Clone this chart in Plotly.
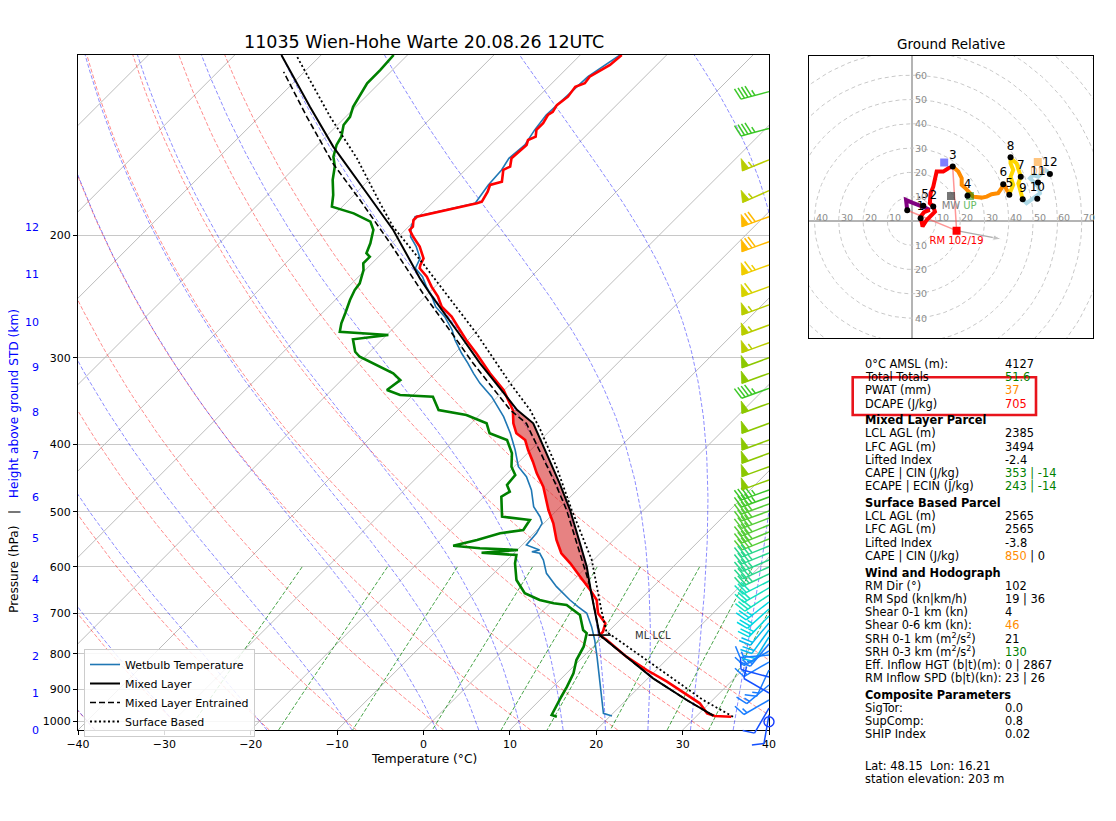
import numpy as np
import plotly.graph_objects as go

# ======================= DATA =======================
TITLE = "11035 Wien-Hohe Warte 20.08.26 12UTC"

temp_p = [110.0, 112.5, 113.7, 118.2, 120.8, 122.2, 126.3, 129.9, 132.8, 134.2, 137.9, 141.0, 144.2, 145.8,
          148.2, 154.9, 159.2, 161.0, 167.4, 169.2, 173.0, 178.9, 179.8, 188.0, 190.1, 194.3, 196.4, 200.9,
          207.6, 215.8, 220.6, 223.0, 229.3, 237.0, 245.0, 253.3, 261.8, 273.6, 282.9, 295.6, 315.9, 333.8,
          356.7, 372.8, 385.3, 394.0, 407.3, 423.3, 440.0, 459.9, 480.6, 496.9, 519.2, 548.8, 573.5, 592.9,
          619.8, 647.7, 669.5, 699.7, 723.3, 743.7, 751.8, 764.4, 807.8, 844.3, 877.7, 917.2, 942.8, 974.6,
          983.3, 985.6]
temp_c = [-55.2, -55.4, -55.4, -56.4, -56.2, -56.9, -56.6, -56.9, -56.6, -56.8, -56.4, -56.4, -55.7, -56.2,
          -55.8, -56.0, -55.2, -55.6, -54.4, -55.4, -54.9, -54.4, -54.8, -60.2, -60.2, -59.5, -59.5, -58.3,
          -56.4, -54.6, -54.2, -53.9, -52.1, -50.4, -48.5, -46.9, -44.6, -42.1, -40.2, -37.5, -33.6, -30.1,
          -26.7, -25.1, -23.6, -21.8, -20.3, -18.4, -16.6, -14.3, -12.4, -11.0, -8.9, -6.6, -4.5, -2.3,
          0.4, 3.1, 5.0, 6.7, 8.7, 9.4, 9.4, 10.8, 15.0, 18.9, 22.6, 26.4, 28.9, 30.9,
          32.1, 34.1]

dwpt_p = [110.0, 115.6, 120.8, 123.5, 130.6, 135.0, 138.7, 144.2, 148.2, 154.1, 159.2, 166.4, 174.9, 181.8,
          185.9, 191.1, 196.4, 205.3, 212.2, 214.7, 219.4, 224.3, 234.4, 239.7, 247.7, 258.9, 267.6, 275.2,
          278.2, 282.2, 294.1, 299.0, 305.6, 315.9, 323.0, 333.8, 339.4, 341.3, 356.7, 362.7, 372.8, 385.3,
          394.0, 411.7, 430.4, 442.4, 457.3, 467.6, 475.4, 508.0, 513.6, 530.9, 536.7, 548.8, 559.3, 564.1,
          567.3, 572.4, 576.8, 592.9, 626.6, 654.8, 669.5, 676.8, 680.7, 703.6, 739.4, 747.6, 781.6, 816.8,
          853.6, 892.3, 922.5, 953.5, 980.0, 985.6]
dwpt_c = [-81.6, -81.4, -81.4, -81.1, -80.3, -79.5, -79.3, -78.2, -77.8, -76.8, -75.5, -74.2, -72.4, -71.2,
          -67.9, -65.0, -63.7, -62.5, -61.8, -61.0, -61.0, -60.2, -59.1, -58.9, -58.3, -57.3, -56.6, -55.8,
          -49.8, -53.4, -51.7, -50.6, -48.3, -44.8, -43.2, -43.6, -41.5, -37.5, -35.3, -31.5, -28.2, -26.7,
          -23.9, -21.8, -20.3, -18.9, -18.7, -17.6, -18.0, -15.6, -12.0, -11.6, -13.9, -15.8, -17.9, -14.5,
          -9.9, -13.8, -9.5, -8.7, -6.6, -4.1, -1.6, 0.4, 2.1, 4.8, 6.9, 7.7, 8.9, 9.6,
          10.8, 11.6, 12.1, 12.7, 13.1, 13.9]

wetb_p = [110.0, 118.2, 126.3, 134.2, 141.0, 148.2, 154.9, 161.0, 169.2, 179.8, 188.0, 194.3, 200.9, 207.6,
          215.8, 223.0, 229.3, 237.0, 245.0, 253.3, 261.8, 273.6, 282.9, 295.6, 305.6, 315.9, 326.5, 341.3,
          364.7, 385.3, 407.3, 430.4, 445.0, 464.9, 491.4, 508.0, 519.2, 536.7, 558.0, 567.3, 570.4, 573.5,
          586.4, 612.9, 640.5, 669.5, 684.6, 699.7, 731.4, 764.4, 807.8, 835.0, 882.3, 922.5, 953.5, 974.6,
          983.3]
wetb_c = [-55.4, -56.6, -56.8, -57.0, -56.6, -56.0, -56.3, -55.8, -55.6, -55.0, -60.4, -59.7, -58.6, -56.8,
          -55.0, -54.4, -52.6, -51.0, -49.2, -47.6, -45.4, -43.0, -41.5, -39.2, -37.3, -35.5, -33.6, -30.7,
          -27.0, -24.3, -21.8, -19.5, -17.4, -15.3, -13.1, -11.2, -10.2, -9.7, -9.5, -7.4, -8.1, -7.0,
          -5.8, -3.9, -1.2, 1.9, 3.6, 5.4, 7.5, 9.4, 11.6, 12.9, 15.0, 16.8, 18.1, 18.9,
          20.2]

ml_p = [982.3, 932.6, 867.9, 807.8, 752.0, 654.8, 599.6, 554.8, 496.9, 454.8, 411.7, 372.8, 356.7, 305.6,
        278.2, 242.4, 230.6, 196.4, 173.9, 149.0, 130.6, 110.0]
ml_c = [31.9, 27.0, 20.6, 15.0, 9.4, 3.6, 0.0, -3.5, -8.5, -12.8, -17.8, -22.8, -26.2, -35.9,
        -41.5, -49.8, -52.7, -61.4, -68.7, -78.0, -85.3, -94.6]

mle_p = [982.3, 932.6, 867.9, 807.8, 752.0, 640.5, 554.8, 496.9, 454.8, 411.7, 372.8, 356.7, 305.6, 278.2,
         242.4, 205.3, 177.9, 157.5, 135.0, 116.3]
mle_c = [31.9, 27.0, 20.6, 15.0, 9.4, 2.7, -3.9, -8.9, -13.3, -18.5, -23.6, -27.0, -36.7, -42.3,
         -50.6, -60.2, -68.7, -76.1, -84.5, -92.4]

sb_p = [985.6, 932.6, 863.3, 798.9, 743.7, 692.1, 640.5, 586.4, 496.9, 430.4, 381.1, 356.7, 326.5, 276.7,
        219.4, 194.3, 179.8, 154.9, 135.0, 110.6]
sb_c = [34.3, 28.9, 22.4, 15.8, 9.8, 6.7, 3.5, -0.2, -8.3, -15.1, -21.2, -24.7, -30.1, -39.8,
        -54.1, -61.8, -66.0, -73.9, -81.8, -92.6]

ml_lcl_p, ml_lcl_c = 752.0, 9.4
ml_lfc_p, ml_el_p = 654.8, 356.7

barb_p = [124.2, 140.3, 155.7, 172.4, 188.0, 204.2, 220.6, 237.0, 251.8, 269.2, 285.4, 300.0, 315.9, 332.0,
          348.9, 372.8, 394.0, 411.7, 430.4, 449.8, 464.9, 476.0, 487.1, 498.5, 510.2, 522.2, 534.5, 546.9,
          559.8, 573.0, 586.4, 600.2, 614.2, 628.6, 643.3, 658.5, 673.9, 689.8, 706.0, 722.5, 739.4, 756.8,
          774.6, 792.8, 803.4, 822.3, 844.3, 864.1, 887.3, 911.1, 932.6, 957.6, 980.0, 1002.1]
barb_kt = [45, 45, 55, 55, 70, 70, 65, 60, 55, 55, 55, 50, 50, 45,
           50, 50, 50, 50, 50, 50, 45, 45, 40, 40, 40, 40, 40, 40,
           35, 35, 35, 35, 35, 30, 30, 30, 25, 25, 25, 20, 20, 20,
           15, 15, 15, 15, 15, 10, 15, 10, 15, 10, 10, 0]
barb_dir = [255, 255, 248, 246, 250, 250, 250, 250, 250, 250, 250, 250, 250, 250,
            250, 250, 250, 250, 250, 250, 250, 250, 250, 250, 249, 248, 248, 248,
            248, 248, 247, 246, 245, 243, 240, 236, 232, 228, 224, 220, 216, 212,
            220, 240, 265, 240, 205, 285, 230, 300, 240, 210, 190, 0]

x_ticks = [-40, -30, -20, -10, 0, 10, 20, 30, 40]
p_ticks = [1000, 900, 800, 700, 600, 500, 400, 300, 200]
height_km = [0, 1, 2, 3, 4, 5, 6, 7, 8, 9, 10, 11, 12]
height_km_p = [1030.0, 912.1, 806.0, 711.3, 625.1, 546.9, 477.0, 415.4, 359.9, 309.6, 266.5, 228.0, 194.6]

# hodograph (kn)
hodo_0_1_u = [-1.8, -2.3, 0.5, 2.1, 3.4, 5.5, 7.5]
hodo_0_1_v = [4.4, 8.6, 7.4, 7.0, 6.3, 5.5, 4.5]
hodo_1_3_u = [7.5, 5.1, 3.7, 4.5, 6.2, 8.2, 9.6, 8.9, 7.5, 7.8, 8.9, 10.3, 13.0, 15.1, 16.9]
hodo_1_3_v = [4.5, 3.6, 1.8, -2.3, 0.4, 2.5, 3.8, 5.9, 7.3, 11.4, 14.1, 20.3, 20.3, 21.7, 22.4]
hodo_3_6_u = [16.9, 19.2, 20.6, 20.6, 22.6, 24.0, 25.3, 28.8, 30.9, 32.9, 35.6, 37.0, 38.0, 39.1, 40.2]
hodo_3_6_v = [22.4, 20.3, 17.6, 14.8, 13.0, 11.4, 10.0, 9.6, 10.0, 11.0, 11.4, 13.5, 15.2, 12.8, 11.1]
hodo_6_9_u = [40.2, 41.8, 40.7, 41.8, 40.7, 40.7, 43.2, 44.9, 43.9, 45.7]
hodo_6_9_v = [11.1, 14.8, 18.2, 21.0, 23.7, 25.8, 23.7, 18.2, 15.5, 8.9]
hodo_9_12_u = [45.7, 47.3, 50.0, 52.8, 52.1, 48.7, 50.0, 52.1, 54.9, 56.9]
hodo_9_12_v = [8.9, 7.3, 9.3, 11.4, 14.1, 17.6, 18.9, 18.2, 21.0, 19.3]

sfc_uv = (-1.8, 4.4)
km_labels = ['.5', '1', '2', '3', '4', '5', '6', '7', '8', '9', '10', '11', '12']
km_u = [4.8, 3.7, 8.9, 16.9, 23.0, 40.2, 37.7, 44.9, 40.7, 45.7, 51.7, 52.0, 56.9]
km_v = [6.2, 1.1, 5.9, 22.4, 10.4, 10.8, 15.1, 18.2, 26.2, 8.9, 9.1, 15.8, 19.3]

rm_uv = (18.5, -4.0)
lm_uv = (13.4, 24.0)
mw_uv = (16.2, 10.3)
up_uv = (24.0, 10.3)
dn_uv = (51.9, 24.3)
rm_arrow_uv = (37.0, -7.5)
rm_label = "RM 102/19"
hodo_ring_kn = [10, 20, 30, 40, 50, 60, 70, 80, 90, 100]

C_GREEN, C_ORANGE, C_RED = '#008000', '#ff8c00', '#ff0000'


def col(s, c):
    return f'<span style="color:{c}">{s}</span>'


table_rows = [
    ('0°C AMSL (m):', '4127'),
    ('Total Totals', col('51.6', C_GREEN)),
    ('PWAT (mm)', col('37', C_ORANGE)),
    ('DCAPE (J/kg)', col('705', C_RED)),
    ('<b>Mixed Layer Parcel</b>', None),
    ('LCL AGL (m)', '2385'),
    ('LFC AGL (m)', '3494'),
    ('Lifted Index', '-2.4'),
    ('CAPE | CIN (J/kg)', col('353 | -14', C_GREEN)),
    ('ECAPE | ECIN (J/kg)', col('243 | -14', C_GREEN)),
    ('<b>Surface Based Parcel</b>', None),
    ('LCL AGL (m)', '2565'),
    ('LFC AGL (m)', '2565'),
    ('Lifted Index', '-3.8'),
    ('CAPE | CIN (J/kg)', col('850', C_ORANGE) + ' | 0'),
    ('<b>Wind and Hodograph</b>', None),
    ('RM Dir (°)', '102'),
    ('RM Spd (kn|km/h)', '19 | 36'),
    ('Shear 0-1 km (kn)', '4'),
    ('Shear 0-6 km (kn):', col('46', C_ORANGE)),
    ('SRH 0-1 km (m<sup>2</sup>/s<sup>2</sup>)', '21'),
    ('SRH 0-3 km (m<sup>2</sup>/s<sup>2</sup>)', col('130', C_GREEN)),
    ('Eff. Inflow HGT (b|t)(m):', '0 | 2867'),
    ('RM Inflow SPD (b|t)(kn):', '23 | 26'),
    ('<b>Composite Parameters</b>', None),
    ('SigTor:', '0.0'),
    ('SupComp:', '0.8'),
    ('SHIP Index', '0.02'),
]
footer_rows = ['Lat: 48.15  Lon: 16.21', 'station elevation: 203 m']

# ======================= LAYOUT GEOMETRY =======================
# the page body has an 8 px margin, so the figure is 8 px smaller and every
# screen position is shifted by that offset
PAGE_OFF = 8.0
FIG_W, FIG_H = 1116 - 8, 821 - 8
AX_L, AX_R, AX_T, AX_B = 78.0, 769.0, 55.0, 730.0
P_BOT, P_TOP = 1030.0, 110.0
T_MIN, T_MAX = -40.0, 40.0
PXC = (AX_R - AX_L) / (T_MAX - T_MIN)          # px per degC
LOGSPAN = np.log10(P_BOT / P_TOP)
DLOG = LOGSPAN / (AX_B - AX_T)                  # log10(p) per px
SKEW = (T_MAX - T_MIN) * (AX_B - AX_T) / (AX_R - AX_L)   # 45 deg in pixels
FONT = 'DejaVu Sans'


def fx(px):
    return (px - PAGE_OFF) / FIG_W


def fy(py):
    return 1.0 - (py - PAGE_OFF) / FIG_H


def skew_x(t, p):
    t = np.asarray(t, dtype=float)
    p = np.asarray(p, dtype=float)
    return t + SKEW * np.log10(P_BOT / p) / LOGSPAN


fig = go.Figure()


def add_multiline(xs_list, ps_list, color, width, dash=None, xa='x', ya='y'):
    xs, ys = [], []
    for x, p in zip(xs_list, ps_list):
        xs += list(x) + [None]
        ys += list(p) + [None]
    fig.add_trace(go.Scatter(x=xs, y=ys, mode='lines', xaxis=xa, yaxis=ya,
                             line=dict(color=color, width=width, dash=dash),
                             hoverinfo='skip', showlegend=False))


# ---- isotherms (skewed grid) ----
iso_x, iso_p = [], []
for t in np.arange(-130, 41, 10):
    pp = np.array([P_BOT, P_TOP])
    iso_x.append(skew_x([t, t], pp))
    iso_p.append(pp)
add_multiline(iso_x, iso_p, '#b4b4b4', 0.9)

# ---- dry adiabats ----
pgrid = np.geomspace(P_BOT, P_TOP, 80)
dx_, dp_ = [], []
for t0 in np.arange(-40, 51, 10):
    tt = (t0 + 273.15) * (pgrid / 1000.0) ** 0.28571 - 273.15
    dx_.append(skew_x(tt, pgrid))
    dp_.append(pgrid)
add_multiline(dx_, dp_, 'rgba(255,0,0,0.5)', 0.9, dash='4px,2px')

# ---- moist adiabats ----
RD, CP, LV, EPS = 287.04749, 1004.6662, 2.50084e6, 0.621957


def moist_rate(tk, p):
    tc = tk - 273.15
    es = 6.112 * np.exp(17.67 * tc / (tc + 243.5))
    rs = EPS * es / (p - es)
    return (RD * tk + LV * rs) / (CP + LV * LV * rs * EPS / (RD * tk * tk))


def integrate_moist(t0k, plist):
    out = [t0k]
    for i in range(len(plist) - 1):
        p1, p2 = plist[i], plist[i + 1]
        h = np.log(p2) - np.log(p1)
        pm = np.exp(np.log(p1) + h / 2)
        tk = out[-1]
        k1 = moist_rate(tk, p1)
        k2 = moist_rate(tk + h / 2 * k1, pm)
        k3 = moist_rate(tk + h / 2 * k2, pm)
        k4 = moist_rate(tk + h * k3, p2)
        out.append(tk + h / 6 * (k1 + 2 * k2 + 2 * k3 + k4))
    return np.array(out)


p_up = np.geomspace(1000.0, P_TOP, 140)
p_dn = np.geomspace(1000.0, P_BOT, 6)
mx_, mp_ = [], []
for t0 in [-40, -30, -20, -10, 0, 5, 10, 15, 20, 25, 30, 35, 40]:
    tu = integrate_moist(t0 + 273.15, p_up)
    td = integrate_moist(t0 + 273.15, p_dn)
    pp = np.concatenate([p_dn[::-1], p_up[1:]])
    tt = np.concatenate([td[::-1], tu[1:]]) - 273.15
    mx_.append(skew_x(tt, pp))
    mp_.append(pp)
add_multiline(mx_, mp_, 'rgba(0,0,255,0.5)', 0.9, dash='4px,2px')

# ---- mixing ratio lines ----
pm_ = np.linspace(600.0, P_BOT, 20)
wx_, wp_ = [], []
for w in [0.0004, 0.001, 0.002, 0.004, 0.007, 0.01, 0.016, 0.024, 0.032]:
    e = w * pm_ / (EPS + w)
    a = np.log(e / 6.112)
    tdw = 243.5 * a / (17.67 - a)
    wx_.append(skew_x(tdw, pm_))
    wp_.append(pm_)
add_multiline(wx_, wp_, 'rgba(0,128,0,0.8)', 0.9, dash='4px,2px')

# ---- CAPE shading (ML parcel vs temperature) ----
mlp = np.array(ml_p); mlc = np.array(ml_c)
tp = np.array(temp_p); tc_ = np.array(temp_c)
m1 = (mlp <= ml_lfc_p) & (mlp >= ml_el_p)
m2 = (tp <= ml_lfc_p) & (tp >= ml_el_p)
poly_p = np.concatenate([mlp[m1], tp[m2]])
poly_t = np.concatenate([mlc[m1], tc_[m2]])
fig.add_trace(go.Scatter(x=skew_x(poly_t, poly_p), y=poly_p, mode='lines', fill='toself',
                         fillcolor='rgba(214,39,40,0.58)', line=dict(width=0, color='rgba(0,0,0,0)'),
                         hoverinfo='skip', showlegend=False))

# ---- profiles ----
fig.add_trace(go.Scatter(x=skew_x(wetb_c, wetb_p), y=wetb_p, mode='lines', name='Wetbulb Temperature',
                         line=dict(color='#1f77b4', width=1.6), showlegend=True))
fig.add_trace(go.Scatter(x=skew_x(temp_c, temp_p), y=temp_p, mode='lines', name='Temperature',
                         line=dict(color='red', width=2.6), showlegend=False))
fig.add_trace(go.Scatter(x=skew_x(dwpt_c, dwpt_p), y=dwpt_p, mode='lines', name='Dewpoint',
                         line=dict(color='green', width=2.6), showlegend=False))
fig.add_trace(go.Scatter(x=skew_x(ml_c, ml_p), y=ml_p, mode='lines', name='Mixed Layer',
                         line=dict(color='black', width=2.0), showlegend=True))
fig.add_trace(go.Scatter(x=skew_x(mle_c, mle_p), y=mle_p, mode='lines', name='Mixed Layer Entrained',
                         line=dict(color='black', width=1.6, dash='6px,3px'), showlegend=True))
fig.add_trace(go.Scatter(x=skew_x(sb_c, sb_p), y=sb_p, mode='lines', name='Surface Based',
                         line=dict(color='black', width=1.8, dash='2px,2.5px'), showlegend=True))
fig.add_trace(go.Scatter(x=skew_x([ml_lcl_c], [ml_lcl_p]), y=[ml_lcl_p], mode='markers',
                         marker=dict(symbol='line-ew', size=16, line=dict(color='black', width=1.6)),
                         hoverinfo='skip', showlegend=False))

# ---- wind barbs (overlay axes so they are not clipped at the frame) ----
BX0, BX1, BY0, BY1 = 690.0, 800.0, 40.0, 775.0
BL = 29.0
spd_stops = [(0, (20, 60, 255)), (10, (20, 80, 255)), (15, (25, 125, 255)), (20, (0, 185, 240)),
             (25, (0, 215, 225)), (30, (20, 225, 190)), (35, (40, 215, 140)), (40, (85, 205, 55)),
             (45, (60, 200, 40)), (50, (140, 200, 0)), (55, (185, 205, 0)), (60, (215, 210, 0)),
             (65, (240, 205, 0)), (70, (255, 185, 0))]


def spd_color(s):
    best = min(spd_stops, key=lambda kv: abs(kv[0] - s))[1]
    return 'rgb(%d,%d,%d)' % best


groups = {}
calm_x, calm_p = [], []
for p0, spd, wd in zip(barb_p, barb_kt, barb_dir):
    s5 = int(5 * round(spd / 5.0))
    if s5 == 0:
        calm_x.append(T_MAX)
        calm_p.append(p0)
        continue
    d = np.array([np.sin(np.radians(wd)), np.cos(np.radians(wd))])
    n = np.array([d[1], -d[0]])

    def pt(along, side, p0=p0, d=d, n=n):
        dxp = along * d[0] + side * n[0]
        dyp = along * d[1] + side * n[1]
        return T_MAX + dxp / PXC, p0 * 10 ** (-dyp * DLOG)

    g = groups.setdefault(spd_color(s5), {'lx': [], 'ly': [], 'fx': [], 'fy': []})
    sp, fh, fw = 0.125 * BL, 0.4 * BL, 0.25 * BL
    segs = [[pt(0, 0), pt(BL, 0)]]
    nflag = s5 // 50
    rem = s5 - 50 * nflag
    nfull = rem // 10
    nhalf = (rem % 10) // 5
    pos = BL
    for i in range(nflag):
        tri = [pt(pos, 0), pt(pos - fw / 2, fh), pt(pos - fw, 0), pt(pos, 0)]
        g['fx'] += [q[0] for q in tri] + [None]
        g['fy'] += [q[1] for q in tri] + [None]
        pos -= fw + sp
    for i in range(nfull):
        segs.append([pt(pos, 0), pt(pos + fw / 2, fh)])
        pos -= sp
    if nhalf:
        if nflag == 0 and nfull == 0:
            pos -= 1.5 * sp
        segs.append([pt(pos, 0), pt(pos + fw / 4, fh / 2)])
    for sg in segs:
        g['lx'] += [q[0] for q in sg] + [None]
        g['ly'] += [q[1] for q in sg] + [None]

for c, g in groups.items():
    fig.add_trace(go.Scatter(x=g['lx'], y=g['ly'], mode='lines', xaxis='x2', yaxis='y2',
                             line=dict(color=c, width=1.5), hoverinfo='skip', showlegend=False))
    if g['fx']:
        fig.add_trace(go.Scatter(x=g['fx'], y=g['fy'], mode='lines', fill='toself', fillcolor=c,
                                 xaxis='x2', yaxis='y2', line=dict(color=c, width=0.8),
                                 hoverinfo='skip', showlegend=False))
fig.add_trace(go.Scatter(x=calm_x, y=calm_p, mode='markers', xaxis='x2', yaxis='y2',
                         marker=dict(symbol='circle-open', size=10, color=spd_color(0),
                                     line=dict(width=1.4, color=spd_color(0))),
                         hoverinfo='skip', showlegend=False))

# ---- hodograph ----
th = np.linspace(0, 2 * np.pi, 181)
add_multiline([r * np.cos(th) for r in hodo_ring_kn], [r * np.sin(th) for r in hodo_ring_kn],
              '#c8c8c8', 1.0, dash='4px,3px', xa='x3', ya='y3')
fig.add_trace(go.Scatter(x=[sfc_uv[0], rm_uv[0], None, km_u[3], rm_uv[0]],
                         y=[sfc_uv[1], rm_uv[1], None, km_v[3], rm_uv[1]], mode='lines',
                         xaxis='x3', yaxis='y3', line=dict(color='rgba(255,80,80,0.6)', width=1.5),
                         hoverinfo='skip', showlegend=False))
fig.add_trace(go.Scatter(x=[rm_uv[0], rm_arrow_uv[0]], y=[rm_uv[1], rm_arrow_uv[1]], mode='lines+markers',
                         xaxis='x3', yaxis='y3', line=dict(color='#aaaaaa', width=1.4),
                         marker=dict(symbol=['circle', 'arrow'], size=[1, 9], angleref='previous',
                                     color='#aaaaaa'),
                         hoverinfo='skip', showlegend=False))
for uu, vv, c in [(hodo_0_1_u, hodo_0_1_v, '#800080'), (hodo_1_3_u, hodo_1_3_v, '#ff0000'),
                  (hodo_3_6_u, hodo_3_6_v, '#ff8c00'), (hodo_6_9_u, hodo_6_9_v, '#ffd700'),
                  (hodo_9_12_u, hodo_9_12_v, '#add8e6')]:
    fig.add_trace(go.Scatter(x=uu, y=vv, mode='lines', xaxis='x3', yaxis='y3',
                             line=dict(color=c, width=4), hoverinfo='skip', showlegend=False))
fig.add_trace(go.Scatter(x=[lm_uv[0]], y=[lm_uv[1]], mode='markers', xaxis='x3', yaxis='y3',
                         marker=dict(symbol='square', size=8, color='rgba(0,0,255,0.5)'),
                         hoverinfo='skip', showlegend=False))
for (uv, mc, lab, lc) in [(mw_uv, 'rgba(60,60,60,0.7)', 'MW', '#808080'),
                          (up_uv, 'rgba(0,128,0,0.5)', 'UP', '#66bb66'),
                          (dn_uv, 'rgba(255,140,0,0.5)', 'DN', '#ffc080'),
                          (rm_uv, '#ff0000', rm_label, '#ff0000')]:
    fig.add_trace(go.Scatter(x=[uv[0]], y=[uv[1]], mode='markers+text', text=[lab],
                             textposition='bottom center', textfont=dict(size=10, color=lc),
                             xaxis='x3', yaxis='y3', marker=dict(symbol='square', size=8, color=mc),
                             hoverinfo='skip', showlegend=False))
fig.add_trace(go.Scatter(x=[sfc_uv[0]], y=[sfc_uv[1]], mode='markers', xaxis='x3', yaxis='y3',
                         marker=dict(size=6, color='black'), hoverinfo='skip', showlegend=False))
fig.add_trace(go.Scatter(x=km_u, y=km_v, mode='markers+text', text=km_labels, textposition='top center',
                         textfont=dict(size=12, color='black'), xaxis='x3', yaxis='y3',
                         marker=dict(size=6, color='black'), hoverinfo='skip', showlegend=False))

# ======================= ANNOTATIONS =======================
ann = []
ann.append(dict(text=TITLE, x=fx((AX_L + AX_R) / 2), y=fy(42), xref='paper', yref='paper',
                showarrow=False, font=dict(size=17.5, color='black'), xanchor='center', yanchor='middle'))
ann.append(dict(text='Temperature (°C)', x=fx((AX_L + AX_R) / 2), y=fy(759), xref='paper', yref='paper',
                showarrow=False, font=dict(size=12.2, color='black'), xanchor='center', yanchor='middle'))
ann.append(dict(text='Pressure (hPa)   |   ' + col('Height above ground STD (km)', 'blue'),
                x=fx(14), y=fy(461), xref='paper', yref='paper', textangle=-90, showarrow=False,
                font=dict(size=12.2, color='black'), xanchor='center', yanchor='middle'))
for km, pk in zip(height_km, height_km_p):
    ann.append(dict(text=str(km), x=fx(41), y=np.log10(pk), xref='paper', yref='y', showarrow=False,
                    font=dict(size=11, color='blue'), xanchor='right', yanchor='middle'))
ann.append(dict(text='ML LCL', x=float(skew_x(ml_lcl_c, ml_lcl_p)), y=np.log10(ml_lcl_p), xref='x', yref='y',
                xshift=33, showarrow=False, font=dict(size=10, color='#333333'),
                xanchor='left', yanchor='middle'))

# hodograph ring labels / title
for r in [10, 20, 30, 40]:
    ann.append(dict(text=str(r), x=-r, y=0, xref='x3', yref='y3', showarrow=False, yshift=3.5,
                    font=dict(size=9.5, color='#8c8c8c'), xanchor='left', yanchor='middle'))
for r in [10, 20, 30, 40, 50, 60, 70]:
    ann.append(dict(text=str(r), x=r, y=0, xref='x3', yref='y3', showarrow=False, yshift=3.5, xshift=-1,
                    font=dict(size=9.5, color='#8c8c8c'), xanchor='left', yanchor='middle'))
for r in [10, 20, 30, 40, 50, 60]:
    ann.append(dict(text=str(r), x=0, y=r, xref='x3', yref='y3', showarrow=False, xshift=1,
                    font=dict(size=9.5, color='#8c8c8c'), xanchor='left', yanchor='middle'))
for r in [10, 20, 30, 40]:
    ann.append(dict(text=str(r), x=0, y=-r, xref='x3', yref='y3', showarrow=False, xshift=1,
                    font=dict(size=9.5, color='#8c8c8c'), xanchor='left', yanchor='middle'))
ann.append(dict(text='Ground Relative', x=fx(951), y=fy(44), xref='paper', yref='paper', showarrow=False,
                font=dict(size=13.5, color='black'), xanchor='center', yanchor='middle'))

# table
ty = 364.0
first = True
for lab, val in table_rows:
    if not first:
        ty += 16.7 if val is None else 13.2
    first = False
    ann.append(dict(text=lab, x=fx(863.3), y=fy(ty), xref='paper', yref='paper', showarrow=False,
                    font=dict(size=11.4, color='black'), xanchor='left', yanchor='middle'))
    if val is not None:
        ann.append(dict(text=val, x=fx(1003.3), y=fy(ty), xref='paper', yref='paper', showarrow=False,
                        font=dict(size=11.4, color='black'), xanchor='left', yanchor='middle'))
fy0 = 765.7
for i, line in enumerate(footer_rows):
    ann.append(dict(text=line, x=fx(863.3), y=fy(fy0 + 13.6 * i), xref='paper', yref='paper',
                    showarrow=False, font=dict(size=11.4, color='black'), xanchor='left', yanchor='middle'))

shapes = [dict(type='rect', xref='paper', yref='paper', x0=fx(852.7), x1=fx(1036.0), y0=fy(415.0),
               y1=fy(377.3), line=dict(color='#e8141c', width=2.6), fillcolor='rgba(0,0,0,0)')]

HX0, HX1, HY0, HY1 = 809.3, 1092.7, 55.7, 338.3

fig.update_layout(
    width=FIG_W, height=FIG_H, autosize=False,
    margin=dict(l=0, r=0, t=0, b=0, pad=0),
    paper_bgcolor='white', plot_bgcolor='rgba(0,0,0,0)',
    font=dict(family=FONT, size=11, color='black'),
    showlegend=True,
    legend=dict(x=fx(84), y=fy(649), xanchor='left', yanchor='top', bgcolor='rgba(255,255,255,0.85)',
                bordercolor='#cccccc', borderwidth=1, font=dict(size=11, color='black'),
                itemwidth=30, tracegroupgap=0),
    xaxis=dict(domain=[fx(AX_L), fx(AX_R)], range=[T_MIN, T_MAX], anchor='y', tickmode='array',
               tickvals=x_ticks, ticks='outside', ticklen=4, tickwidth=1, tickcolor='black',
               showline=True, mirror=True, linecolor='black', linewidth=1, showgrid=False, zeroline=False,
               tickfont=dict(size=11), automargin=False),
    yaxis=dict(domain=[fy(AX_B), fy(AX_T)], type='log', range=[np.log10(P_BOT), np.log10(P_TOP)],
               anchor='x', tickmode='array', tickvals=p_ticks, ticktext=[str(v) for v in p_ticks],
               ticks='outside', ticklen=4, tickwidth=1, tickcolor='black', showline=True, mirror=True,
               linecolor='black', linewidth=1, showgrid=True, gridcolor='#c8c8c8', gridwidth=1.3,
               zeroline=False, tickfont=dict(size=11), automargin=False),
    xaxis2=dict(domain=[fx(BX0), fx(BX1)], range=[T_MIN + (BX0 - AX_L) / PXC, T_MIN + (BX1 - AX_L) / PXC],
                anchor='y2', visible=False, automargin=False),
    yaxis2=dict(domain=[fy(BY1), fy(BY0)], type='log',
                range=[np.log10(P_BOT) + (BY1 - AX_B) * DLOG, np.log10(P_TOP) - (AX_T - BY0) * DLOG],
                anchor='x2', visible=False, automargin=False),
    xaxis3=dict(domain=[fx(HX0), fx(HX1)], range=[-42.1, 74.5], anchor='y3', showline=True, mirror=True,
                linecolor='black', linewidth=1, showticklabels=False, ticks='', showgrid=False,
                zeroline=True, zerolinecolor='#b4b4b4', zerolinewidth=1.6, automargin=False),
    yaxis3=dict(domain=[fy(HY1), fy(HY0)], range=[-48.3, 68.0], anchor='x3', showline=True, mirror=True,
                linecolor='black', linewidth=1, showticklabels=False, ticks='', showgrid=False,
                zeroline=True, zerolinecolor='#b4b4b4', zerolinewidth=1.6, automargin=False),
    annotations=ann,
    shapes=shapes,
)

fig.write_html("out.html")
